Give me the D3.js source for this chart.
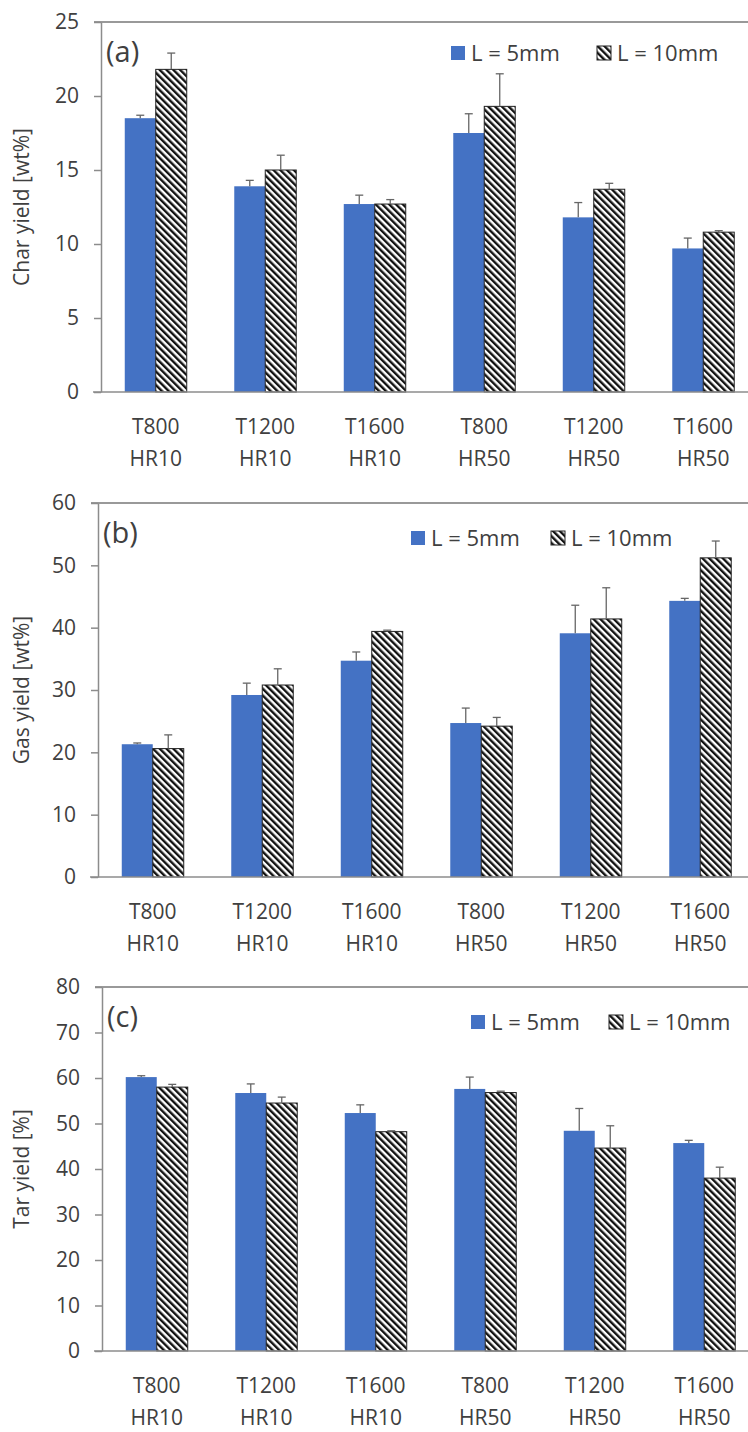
<!DOCTYPE html>
<html lang="en">
<head>
<meta charset="utf-8">
<title>Char, gas and tar yields</title>
<script src="https://cdn.jsdelivr.net/npm/d3@7"></script>
<style>
  body { margin: 0; background: #fff; }
  text { font-family: "Open Sans", "Noto Sans", sans-serif; fill: #404040; }
</style>
</head>
<body>
<script>
// categories
var tempLabels = ["T800", "T1200", "T1600", "T800", "T1200", "T1600"];
var rateLabels = ["HR10", "HR10", "HR10", "HR50", "HR50", "HR50"];
var seriesNames = ["L = 5mm", "L = 10mm"];

// (a) char yield
var charL5 = [18.5, 13.9, 12.7, 17.5, 11.8, 9.7];
var charL5Err = [0.2, 0.4, 0.6, 1.3, 1.0, 0.7];
var charL10 = [21.8, 15.0, 12.7, 19.3, 13.7, 10.8];
var charL10Err = [1.1, 1.0, 0.3, 2.2, 0.4, 0.1];

// (b) gas yield
var gasL5 = [21.3, 29.2, 34.7, 24.7, 39.1, 44.3];
var gasL5Err = [0.2, 1.9, 1.4, 2.4, 4.5, 0.4];
var gasL10 = [20.6, 30.8, 39.4, 24.2, 41.4, 51.2];
var gasL10Err = [2.2, 2.6, 0.2, 1.4, 5.0, 2.7];

// (c) tar yield
var tarL5 = [60.2, 56.7, 52.3, 57.6, 48.4, 45.7];
var tarL5Err = [0.3, 2.0, 1.8, 2.6, 4.9, 0.6];
var tarL10 = [58.0, 54.5, 48.2, 56.8, 44.6, 38.0];
var tarL10Err = [0.6, 1.3, 0.2, 0.3, 4.9, 2.4];

// y axis ticks
var charTicks = [0, 5, 10, 15, 20, 25];
var gasTicks = [0, 10, 20, 30, 40, 50, 60];
var tarTicks = [0, 10, 20, 30, 40, 50, 60, 70, 80];

var w = 748, h = 1432;
var blue = "#4472c4";
var axisColor = "#8c8c8c";

var svg = d3.select("body").append("svg")
  .attr("width", w)
  .attr("height", h);

// diagonal hatch for the 10mm series
var defs = svg.append("defs");
var pat = defs.append("pattern")
  .attr("id", "hatch")
  .attr("patternUnits", "userSpaceOnUse")
  .attr("width", 4.8)
  .attr("height", 4.8)
  .attr("patternTransform", "rotate(-45)");
pat.append("rect").attr("width", 4.8).attr("height", 4.8).attr("fill", "#fff");
pat.append("rect").attr("width", 2.4).attr("height", 4.8).attr("fill", "#111");

var panels = [
  { tag: "(a)", title: "Char yield [wt%]", ticks: charTicks,
    l5: charL5, e5: charL5Err, l10: charL10, e10: charL10Err,
    top: 22, bottom: 392, left: 101, legX: 451, legGap: 146, legY: 53, tagY: 52 },
  { tag: "(b)", title: "Gas yield [wt%]", ticks: gasTicks,
    l5: gasL5, e5: gasL5Err, l10: gasL10, e10: gasL10Err,
    top: 503, bottom: 877, left: 98, legX: 411, legGap: 140, legY: 538, tagY: 533 },
  { tag: "(c)", title: "Tar yield [%]", ticks: tarTicks,
    l5: tarL5, e5: tarL5Err, l10: tarL10, e10: tarL10Err,
    top: 987, bottom: 1351, left: 102, legX: 471, legGap: 138, legY: 1022, tagY: 1017 }
];

panels.forEach(function(p) {
  var g = svg.append("g");

  var x = d3.scaleBand()
    .domain(d3.range(tempLabels.length))
    .range([p.left, p.left + 657])
    .paddingInner(0.434)
    .paddingOuter(0.217);

  var xs = d3.scaleBand()
    .domain([0, 1])
    .range([0, x.bandwidth()]);

  var y = d3.scaleLinear()
    .domain([0, d3.max(p.ticks)])
    .range([p.bottom, p.top]);

  // top border line
  g.append("line")
    .attr("x1", p.left - 7).attr("x2", w)
    .attr("y1", p.top).attr("y2", p.top)
    .attr("stroke", "#777").attr("stroke-width", 1.5);

  // y axis
  var yAxis = g.append("g")
    .attr("transform", "translate(" + p.left + ",0)")
    .call(d3.axisLeft(y).tickValues(p.ticks).tickSize(7).tickSizeOuter(0).tickPadding(15));
  yAxis.select(".domain").attr("stroke", axisColor).attr("stroke-width", 1.5);
  yAxis.selectAll(".tick line").attr("stroke", axisColor).attr("stroke-width", 1.5);
  yAxis.selectAll(".tick text")
    .style("font-family", "'Open Sans', sans-serif")
    .style("font-size", "21px")
    .attr("fill", "#404040");

  var rows = d3.range(tempLabels.length).map(function(i) {
    return { i: i, vals: [p.l5[i], p.l10[i]], errs: [p.e5[i], p.e10[i]] };
  });

  // bars
  rows.forEach(function(r) {
    [0, 1].forEach(function(s) {
      g.append("rect")
        .attr("x", x(r.i) + xs(s))
        .attr("y", y(r.vals[s]))
        .attr("width", xs.bandwidth())
        .attr("height", y(0) - y(r.vals[s]))
        .attr("fill", s === 0 ? blue : "url(#hatch)")
        .attr("stroke", s === 0 ? "none" : "#222")
        .attr("stroke-width", 1);
    });
  });

  // error bars (plus only)
  rows.forEach(function(r) {
    [0, 1].forEach(function(s) {
      var cx = x(r.i) + xs(s) + xs.bandwidth() / 2;
      var y1 = y(r.vals[s]), y2 = y(r.vals[s] + r.errs[s]);
      g.append("line")
        .attr("x1", cx).attr("x2", cx).attr("y1", y1).attr("y2", y2)
        .attr("stroke", "#666").attr("stroke-width", 1.3);
      g.append("line")
        .attr("x1", cx - 4).attr("x2", cx + 4).attr("y1", y2).attr("y2", y2)
        .attr("stroke", "#666").attr("stroke-width", 1.3);
    });
  });

  // x axis
  var xAxis = g.append("g")
    .attr("transform", "translate(0," + p.bottom + ")")
    .call(d3.axisBottom(x).tickSize(0).tickSizeOuter(0).tickFormat(""));
  xAxis.select(".domain").remove();
  g.append("line")
    .attr("x1", p.left - 8).attr("x2", w)
    .attr("y1", p.bottom).attr("y2", p.bottom)
    .attr("stroke", axisColor).attr("stroke-width", 1.5);

  xAxis.selectAll(".tick").each(function(i) {
    var t = d3.select(this).select("text").attr("y", 0).attr("dy", null);
    t.append("tspan").attr("x", 0).attr("y", 35).attr("dy", "0.35em").text(tempLabels[i]);
    t.append("tspan").attr("x", 0).attr("y", 67).attr("dy", "0.35em").text(rateLabels[i]);
  });
  xAxis.selectAll(".tick text")
    .style("font-family", "'Open Sans', sans-serif")
    .style("font-size", "21px")
    .attr("fill", "#404040");

  // y title
  g.append("text")
    .attr("transform", "translate(22," + (p.top + p.bottom) / 2 + ") rotate(-90)")
    .attr("text-anchor", "middle")
    .attr("dy", "0.35em")
    .style("font-size", "21px")
    .text(p.title);

  // panel tag
  g.append("text")
    .attr("x", p.left + 5)
    .attr("y", p.tagY)
    .attr("dy", "0.35em")
    .style("font-size", "29px")
    .text(p.tag);

  // legend
  [0, 1].forEach(function(s) {
    var lx = p.legX + s * p.legGap;
    g.append("rect")
      .attr("x", lx).attr("y", p.legY - 7)
      .attr("width", 14).attr("height", 14)
      .attr("fill", s === 0 ? blue : "url(#hatch)")
      .attr("stroke", s === 0 ? "none" : "#222");
    g.append("text")
      .attr("x", lx + 20)
      .attr("y", p.legY)
      .attr("dy", "0.35em")
      .style("font-size", "22px")
      .text(seriesNames[s]);
  });
});
</script>
</body>
</html>
